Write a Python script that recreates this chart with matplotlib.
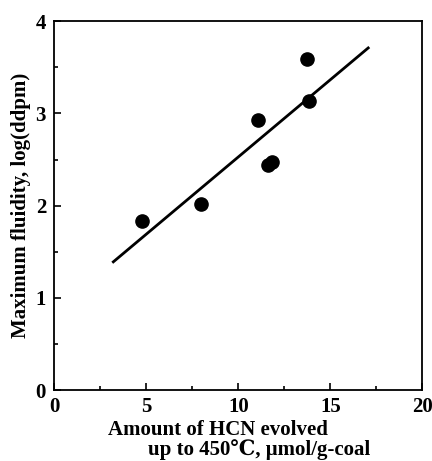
import matplotlib
matplotlib.use("Agg")
import matplotlib.pyplot as plt
from matplotlib.ticker import MultipleLocator

hcn = [4.74, 7.94, 11.04, 11.6, 11.8, 13.74, 13.85]
fluidity = [1.83, 2.02, 2.93, 2.44, 2.47, 3.59, 3.13]
fit_x = [3.2, 17.05]
fit_y = [1.39, 3.71]

fam = ['Liberation Serif', 'DejaVu Serif']
plt.rcParams['font.family'] = fam
plt.rcParams['font.weight'] = 'bold'

fig = plt.figure(figsize=(4.32, 4.61), dpi=100)
ax = fig.add_axes([0.126, 0.154, 0.852, 0.800])
ax.plot(fit_x, fit_y, color='black', lw=2.0)
ax.plot(hcn, fluidity, 'o', color='black', ms=9.5)
ax.set_xlim(0, 20)
ax.set_ylim(0, 4)
ax.xaxis.set_major_locator(MultipleLocator(5))
ax.xaxis.set_minor_locator(MultipleLocator(2.5))
ax.yaxis.set_major_locator(MultipleLocator(1))
ax.yaxis.set_minor_locator(MultipleLocator(0.5))
ax.tick_params(which='both', direction='in', top=False, right=False, labelsize=15, width=1.2)
ax.tick_params(axis='x', pad=5)
ax.tick_params(axis='y', pad=6)
ax.tick_params(which='major', length=5)
ax.tick_params(which='minor', length=3)
for s in ax.spines.values():
    s.set_linewidth(1.3)
for lab in ax.get_xticklabels() + ax.get_yticklabels():
    lab.set_fontweight('bold')
ax.set_ylabel('Maximum fluidity, log(ddpm)', fontsize=15, fontweight='bold', labelpad=3)
fig.text(0.505, 0.067, 'Amount of HCN evolved', ha='center', va='center', fontsize=15, fontweight='bold')
fig.text(0.60, 0.012, 'up to 450\u2103, \u03bcmol/g-coal', ha='center', va='baseline', fontsize=15,
         fontweight='bold', family=['Liberation Serif', 'DejaVu Serif', 'Noto Sans CJK JP'])
fig.savefig('out.png', dpi=100)
